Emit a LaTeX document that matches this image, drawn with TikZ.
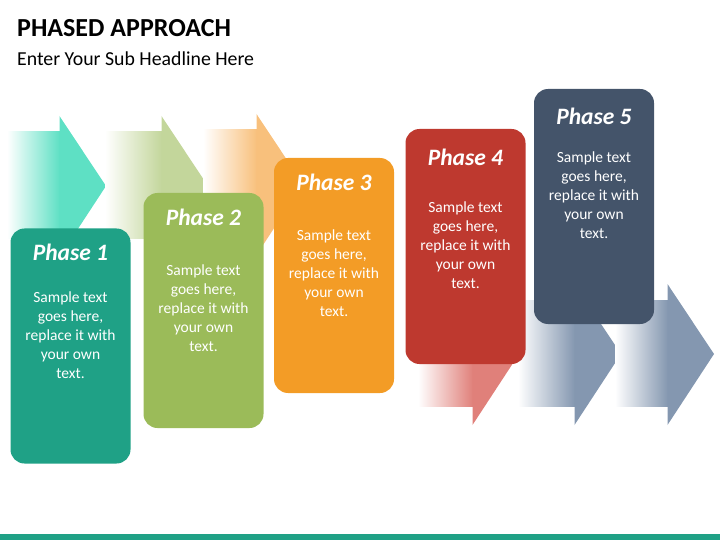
\documentclass[tikz,border=0pt]{standalone}
\usepackage{fontspec}
\setmainfont{Carlito}
\usetikzlibrary{positioning,calc}

\definecolor{boxteal}{HTML}{1FA186}
\definecolor{boxgreen}{HTML}{9BBB59}
\definecolor{boxorange}{HTML}{F39C26}
\definecolor{boxred}{HTML}{BE392F}
\definecolor{boxslate}{HTML}{44546A}
\definecolor{arrteal}{HTML}{5EE0C4}
\definecolor{arrgreen}{HTML}{C3D69B}
\definecolor{arrorange}{HTML}{F8C07C}
\definecolor{arrred}{HTML}{E0807A}
\definecolor{arrslate}{HTML}{8497B0}

\begin{document}
\begin{tikzpicture}[x=1pt, y=-1pt,
    casella/.style={rounded corners=14pt, minimum width=120pt, minimum height=235pt, inner sep=0pt},
    titolo/.style={anchor=base, text=white, font=\fontsize{23.5}{26}\selectfont\bfseries\itshape},
    testo/.style={anchor=north, text=white, align=center, inner sep=0pt, font=\fontsize{15.5}{19}\selectfont}]
  \def\dt{9}   % <-- altezza prima riga

  \useasboundingbox (0,0) rectangle (720,540);

  % intestazione
  \node[anchor=base west, inner sep=0pt, font=\fontsize{26}{30}\selectfont\bfseries] (head) at (17,37) {PHASED APPROACH};
  \node[anchor=base west, inner sep=0pt, font=\fontsize{19.8}{24}\selectfont] (subhead) at (17,66) {Enter Your Sub Headline Here};

  % frecce sfumate
  \foreach \xa/\xb/\cy/\col in {7/60/186/arrteal, 105/162/186/arrgreen, 203/257/184/arrorange,
                                418/473/354/arrred, 518/575/354/arrslate, 615/668/354/arrslate}{
    \shade[left color=white, right color=\col] (\xa,\cy-54) rectangle (\xb,\cy+52);
    \fill[\col] (\xb-0.5,\cy-70) -- (\xb+46,\cy) -- (\xb-0.5,\cy+71) -- cycle;
  }

  % caselle
  \node[casella, fill=boxteal]   (fase1) at (70.5,346) {};
  \node[casella, fill=boxgreen]  (fase2) at (203.5,310.5) {};
  \node[casella, fill=boxorange] (fase3) at (334,275.5) {};
  \node[casella, fill=boxred]    (fase4) at (465.5,246.5) {};
  \node[casella, fill=boxslate]  (fase5) at (594,206.5) {};

  % titoli
  \node[titolo] (tit1) at ($(fase1.north)+(0,32)$) {Phase 1};
  \node[titolo] (tit2) at ($(fase2.north)+(0,33)$) {Phase 2};
  \node[titolo] (tit3) at ($(fase3.north)+(0,33)$) {Phase 3};
  \node[titolo] (tit4) at ($(fase4.north)+(0,37)$) {Phase 4};
  \node[titolo] (tit5) at ($(fase5.north)+(0,36)$) {Phase 5};

  % testi
  \node[testo] (txt1) at ($(fase1.north)+(0,72-\dt)$) {Sample text\\goes here,\\replace it with\\your own\\text.};
  \node[testo] (txt2) at ($(fase2.north)+(0,81-\dt)$) {Sample text\\goes here,\\replace it with\\your own\\text.};
  \node[testo] (txt3) at ($(fase3.north)+(0,81-\dt)$) {Sample text\\goes here,\\replace it with\\your own\\text.};
  \node[testo] (txt4) at ($(fase4.north)+(0,82-\dt)$) {Sample text\\goes here,\\replace it with\\your own\\text.};
  \node[testo] (txt5) at ($(fase5.north)+(0,72-\dt)$) {Sample text\\goes here,\\replace it with\\your own\\text.};

  % barra in basso
  \fill[boxteal] (0,534) rectangle (720,540);
\end{tikzpicture}
\end{document}
